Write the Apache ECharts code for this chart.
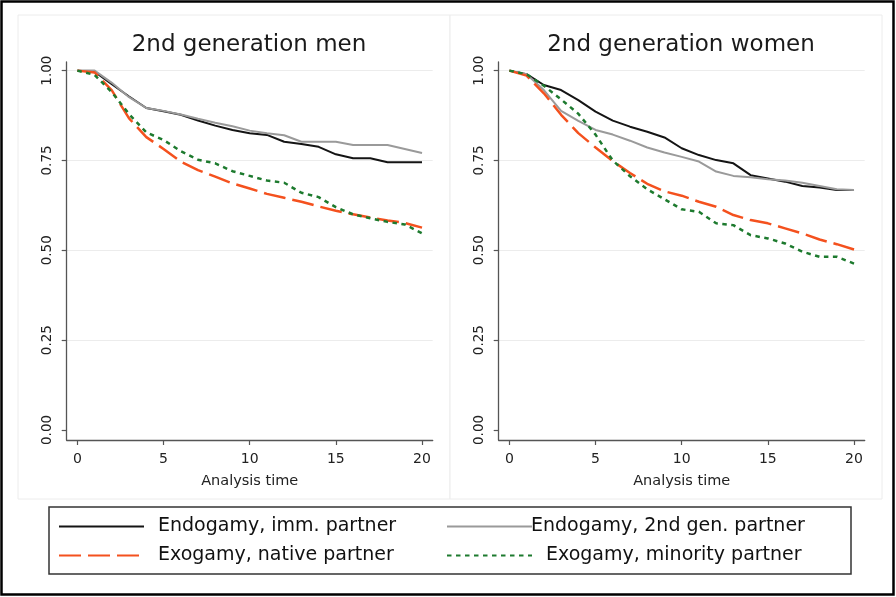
<!DOCTYPE html>
<html>
<head>
<meta charset="utf-8">
<script src="https://cdn.jsdelivr.net/npm/echarts@6/dist/echarts.min.js"></script>
<style>
  html, body { margin: 0; padding: 0; background: #fff; }
  #chart { width: 896px; height: 597px; }
</style>
</head>
<body>
<div id="chart"></div>
<script>
// analysis time (years)
const years = [0, 1, 2, 3, 4, 5, 6, 7, 8, 9, 10, 11, 12, 13, 14, 15, 16, 17, 18, 19, 20]
const yTicks = [0, 0.25, 0.5, 0.75, 1]
const xTicks = [0, 5, 10, 15, 20]

const panelTitles = ['2nd generation men', '2nd generation women']
const seriesNames = [
  'Endogamy, imm. partner',
  'Endogamy, 2nd gen. partner',
  'Exogamy, native partner',
  'Exogamy, minority partner'
]

// 2nd generation men
const menImm = [1.00, 0.997, 0.962, 0.928, 0.896, 0.887, 0.877, 0.861, 0.847, 0.835, 0.826, 0.821, 0.802, 0.796, 0.788, 0.767, 0.756, 0.756, 0.745, 0.745, 0.745]
const men2nd = [1.00, 1.00, 0.966, 0.926, 0.896, 0.888, 0.878, 0.866, 0.855, 0.845, 0.833, 0.826, 0.820, 0.802, 0.802, 0.802, 0.793, 0.793, 0.793, 0.782, 0.771]
const menNat = [1.00, 0.995, 0.945, 0.867, 0.815, 0.782, 0.747, 0.723, 0.705, 0.686, 0.672, 0.657, 0.646, 0.635, 0.622, 0.610, 0.600, 0.591, 0.583, 0.576, 0.563]
const menMin = [1.00, 0.988, 0.940, 0.879, 0.828, 0.807, 0.776, 0.752, 0.742, 0.720, 0.707, 0.694, 0.688, 0.660, 0.648, 0.620, 0.600, 0.589, 0.579, 0.572, 0.547]

// 2nd generation women
const womenImm = [1.00, 0.990, 0.960, 0.946, 0.918, 0.886, 0.861, 0.844, 0.830, 0.814, 0.784, 0.765, 0.751, 0.742, 0.709, 0.700, 0.691, 0.679, 0.675, 0.668, 0.668]
const women2nd = [1.00, 0.990, 0.946, 0.888, 0.860, 0.835, 0.822, 0.805, 0.786, 0.772, 0.760, 0.747, 0.719, 0.707, 0.703, 0.698, 0.694, 0.688, 0.679, 0.670, 0.668]
const womenNat = [1.00, 0.986, 0.937, 0.877, 0.826, 0.786, 0.748, 0.715, 0.685, 0.664, 0.652, 0.635, 0.621, 0.598, 0.584, 0.575, 0.561, 0.547, 0.530, 0.517, 0.502]
const womenMin = [1.00, 0.990, 0.958, 0.920, 0.880, 0.822, 0.750, 0.706, 0.670, 0.642, 0.614, 0.607, 0.575, 0.570, 0.542, 0.533, 0.519, 0.496, 0.482, 0.482, 0.463]

const FONT = 'DejaVu Sans'

// line look per group
const lineStyles = [
  { color: '#141414', width: 2, type: 'solid' },
  { color: '#9a9a9a', width: 2, type: 'solid' },
  { color: '#f4511e', width: 2.5, type: [22, 7] },
  { color: '#1d7a2e', width: 2.5, type: [4.5, 4.5] }
]

const panels = [
  [menImm, men2nd, menNat, menMin],
  [womenImm, women2nd, womenNat, womenMin]
]

const grids = [
  { left: 66.7, top: 62, width: 366, height: 378 },
  { left: 498.7, top: 62, width: 366, height: 378 }
]

const makeXAxis = (idx) => ({
  type: 'value',
  gridIndex: idx,
  min: -0.62,
  max: 20.62,
  name: 'Analysis time',
  nameLocation: 'middle',
  nameGap: 34,
  nameTextStyle: { fontFamily: FONT, fontSize: 14.5, color: '#222' },
  axisLine: { show: true, onZero: false, lineStyle: { color: '#555', width: 1.3 } },
  axisTick: { show: true, length: 5, customValues: xTicks, lineStyle: { color: '#555', width: 1.2 } },
  axisLabel: { customValues: xTicks, margin: 12, fontFamily: FONT, fontSize: 14, color: '#222' },
  splitLine: { show: false }
})

const makeYAxis = (idx) => ({
  type: 'value',
  gridIndex: idx,
  min: -0.028,
  max: 1.024,
  axisLine: { show: true, onZero: false, lineStyle: { color: '#555', width: 1.3 } },
  axisTick: { show: true, length: 5, customValues: yTicks, lineStyle: { color: '#555', width: 1.2 } },
  axisLabel: {
    customValues: yTicks,
    rotate: 90,
    margin: 12,
    fontFamily: FONT,
    fontSize: 13.5,
    color: '#222',
    formatter: (v) => v.toFixed(2)
  },
  splitLine: {
    show: true,
    lineStyle: { color: ['#ffffff', '#ececec', '#ececec', '#ececec', '#ececec'], width: 1 }
  }
})

const series = []
panels.forEach((group, p) => {
  group.forEach((vals, i) => {
    series.push({
      name: seriesNames[i],
      type: 'line',
      xAxisIndex: p,
      yAxisIndex: p,
      data: years.map((t, k) => [t, vals[k]]),
      symbol: 'none',
      lineStyle: lineStyles[i],
      itemStyle: { color: lineStyles[i].color },
      z: 3 + i
    })
  })
})

const legendBase = {
  orient: 'vertical',
  top: 517,
  padding: 0,
  itemWidth: 85,
  itemHeight: 19,
  itemGap: 10,
  itemStyle: { opacity: 0 },
  textStyle: { fontFamily: FONT, fontSize: 19, color: '#111' }
}

const option = {
  animation: false,
  backgroundColor: '#fff',
  graphic: [
    { type: 'rect', z: -10, shape: { x: 18, y: 15, width: 432, height: 484 }, style: { fill: '#fff', stroke: '#ececec', lineWidth: 1 } },
    { type: 'rect', z: -10, shape: { x: 450, y: 15, width: 432, height: 484 }, style: { fill: '#fff', stroke: '#ececec', lineWidth: 1 } },
    { type: 'rect', z: -5, shape: { x: 49, y: 507, width: 802, height: 67 }, style: { fill: 'none', stroke: '#333', lineWidth: 1.5 } },
    { type: 'rect', z: 100, shape: { x: 1.5, y: 1.5, width: 892, height: 593 }, style: { fill: 'none', stroke: '#000', lineWidth: 2.5 } }
  ],
  title: [
    {
      text: panelTitles[0], left: 249, top: 34, textAlign: 'center', padding: 0,
      textStyle: { fontFamily: FONT, fontSize: 23, fontWeight: 'normal', color: '#1a1a1a' }
    },
    {
      text: panelTitles[1], left: 681, top: 34, textAlign: 'center', padding: 0,
      textStyle: { fontFamily: FONT, fontSize: 23, fontWeight: 'normal', color: '#1a1a1a' }
    }
  ],
  legend: [
    Object.assign({}, legendBase, {
      left: 58,
      data: [
        { name: seriesNames[0], textStyle: { padding: [0, 0, 0, 9] } },
        { name: seriesNames[2], textStyle: { padding: [0, 0, 0, 9] } }
      ]
    }),
    Object.assign({}, legendBase, {
      left: 446,
      data: [
        { name: seriesNames[1], textStyle: { padding: [0, 0, 0, -6] } },
        { name: seriesNames[3], textStyle: { padding: [0, 0, 0, 9] } }
      ]
    })
  ],
  grid: grids,
  xAxis: [makeXAxis(0), makeXAxis(1)],
  yAxis: [makeYAxis(0), makeYAxis(1)],
  series: series
}

const chart = echarts.init(document.getElementById('chart'))
chart.setOption(option)
</script>
</body>
</html>
